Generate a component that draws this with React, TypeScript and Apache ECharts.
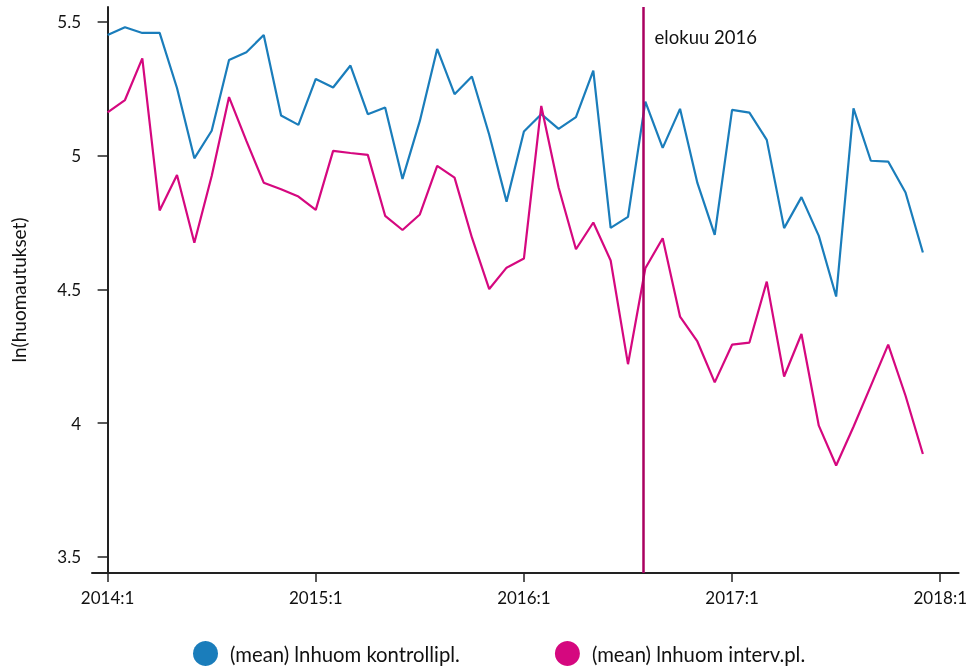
import React, { useEffect, useRef } from "react";
import * as echarts from "echarts";

const months: number[] = Array.from({ length: 48 }, (_, i) => i); // 0 = 2014:1

const kontrolli: number[] = [
  5.451, 5.48, 5.459, 5.459, 5.253, 4.99, 5.093, 5.358, 5.387, 5.451, 5.15, 5.115,
  5.287, 5.255, 5.337, 5.155, 5.18, 4.913, 5.13, 5.399, 5.23, 5.296, 5.078, 4.828,
  5.09, 5.155, 5.1, 5.144, 5.318, 4.73, 4.771, 5.202, 5.029, 5.175, 4.898, 4.704,
  5.171, 5.161, 5.059, 4.729, 4.845, 4.7, 4.473, 5.177, 4.981, 4.978, 4.862, 4.638,
];

const interv: number[] = [
  5.162, 5.208, 5.364, 4.795, 4.928, 4.674, 4.924, 5.219, 5.055, 4.899, 4.874, 4.847,
  4.797, 5.018, 5.01, 5.003, 4.775, 4.722, 4.78, 4.962, 4.918, 4.694, 4.501, 4.581,
  4.615, 5.186, 4.881, 4.65, 4.75, 4.608, 4.22, 4.579, 4.691, 4.398, 4.305, 4.152,
  4.293, 4.301, 4.529, 4.174, 4.333, 3.99, 3.841, 3.986, 4.139, 4.293, 4.102, 3.884,
];

const xTicks: number[] = [0, 12, 24, 36, 48];
const yTicks: number[] = [3.5, 4, 4.5, 5, 5.5];
const eventMonth = 30.9;
const eventLabel = "elokuu 2016";
const seriesNames = ["(mean) lnhuom kontrollipl.", "(mean) lnhuom interv.pl."];

const FONT = "Lato, 'Open Sans', sans-serif";
const BLUE = "#1a7dbb";
const PINK = "#d5087f";
const VLINE = "#aa0060";

export default function App() {
  const ref = useRef<HTMLDivElement>(null);
  useEffect(() => {
    if (!ref.current) return;
    const chart = echarts.init(ref.current, undefined, { renderer: "svg" });
    const axisLine = { show: true, lineStyle: { color: "#222", width: 2 } };
    chart.setOption({
      animation: false,
      textStyle: { fontFamily: FONT },
      grid: { left: 92, right: 10, top: 7, bottom: 95, containLabel: false },
      xAxis: {
        type: "value",
        min: -0.9,
        max: 49.06,
        axisLine,
        splitLine: { show: false },
        axisTick: { show: true, customValues: xTicks, length: 9, lineStyle: { color: "#222", width: 1.5 } },
        axisLabel: {
          customValues: xTicks,
          margin: 16,
          fontSize: 17,
          color: "#111",
          fontFamily: FONT,
          formatter: (v: number) => `${2014 + Math.round(v / 12)}:1`,
        },
      },
      yAxis: {
        type: "value",
        min: 3.439,
        max: 5.556,
        name: "ln(huomautukset)",
        nameLocation: "middle",
        nameGap: 64,
        nameTextStyle: { fontSize: 19, color: "#111", fontFamily: FONT },
        axisLine,
        splitLine: { show: false },
        axisTick: { show: true, customValues: yTicks, length: 10, lineStyle: { color: "#222", width: 1.5 } },
        axisLabel: {
          customValues: yTicks,
          margin: 11,
          fontSize: 17,
          color: "#111",
          fontFamily: FONT,
          formatter: (v: number) => String(v),
        },
      },
      legend: {
        left: 188,
        top: 636,
        itemWidth: 25,
        itemHeight: 25,
        itemGap: 95,
        icon: "circle",
        textStyle: { fontSize: 20.3, color: "#111", fontFamily: FONT, padding: [0, 0, 0, 7] },
        data: seriesNames,
      },
      series: [
        {
          name: seriesNames[0],
          type: "line",
          data: months.map((m, i) => [m, kontrolli[i]]),
          symbol: "none",
          lineStyle: { color: BLUE, width: 2.2 },
          itemStyle: { color: BLUE },
        },
        {
          name: seriesNames[1],
          type: "line",
          data: months.map((m, i) => [m, interv[i]]),
          symbol: "none",
          lineStyle: { color: PINK, width: 2.2 },
          itemStyle: { color: PINK },
          markLine: {
            silent: true,
            symbol: "none",
            label: { show: false },
            lineStyle: { color: VLINE, width: 2.5, type: "solid" },
            data: [{ xAxis: eventMonth }],
          },
        },
      ],
    });
    const px = chart.convertToPixel({ xAxisIndex: 0 }, eventMonth) as number;
    const py = chart.convertToPixel({ yAxisIndex: 0 }, 5.443) as number;
    chart.setOption({
      graphic: [
        {
          type: "text",
          x: px + 11,
          y: py,
          style: { text: eventLabel, fontSize: 18.5, fill: "#111", fontFamily: FONT, verticalAlign: "middle" },
        },
      ],
    });
    return () => chart.dispose();
  }, []);
  return <div ref={ref} style={{ position: "fixed", left: 0, top: 0, width: 970, height: 668 }} />;
}
